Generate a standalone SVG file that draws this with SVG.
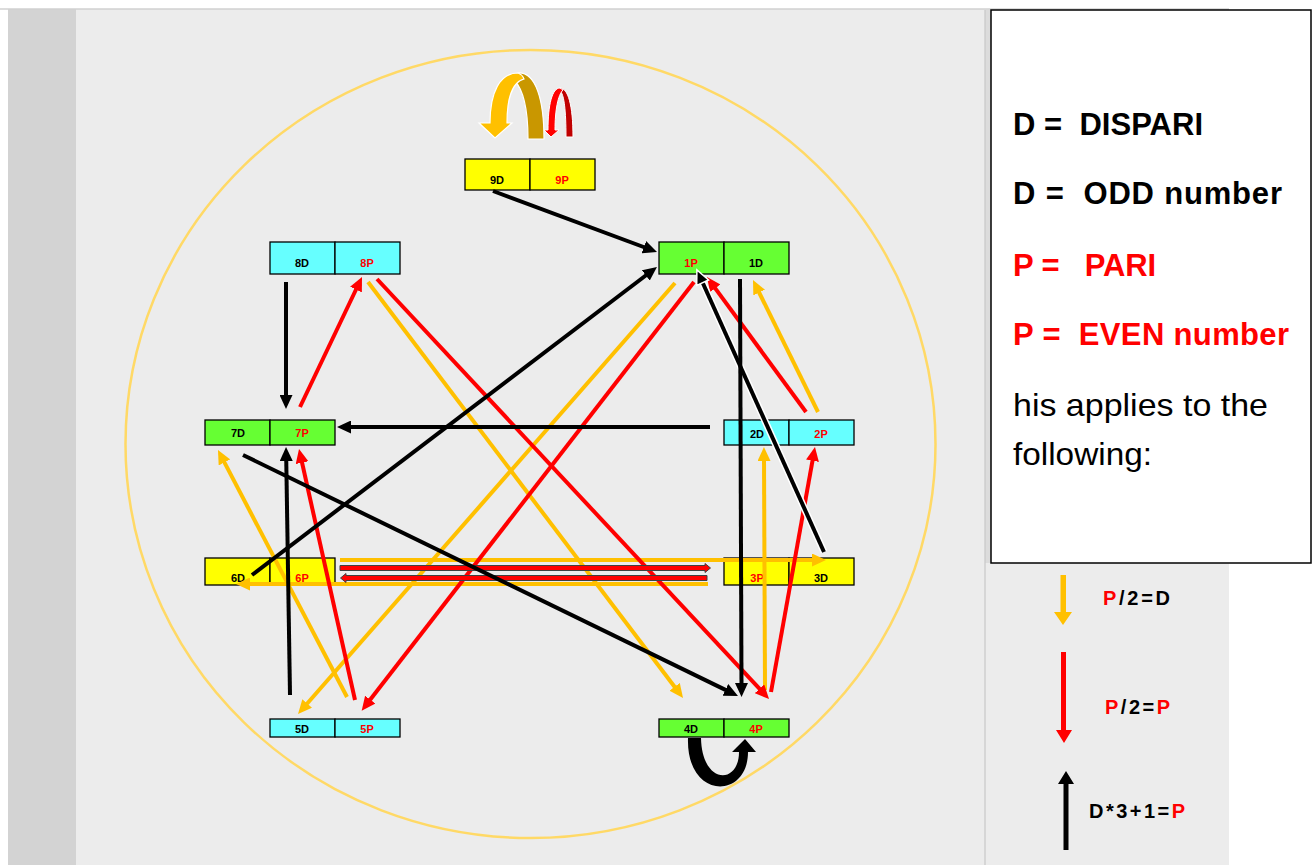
<svg xmlns="http://www.w3.org/2000/svg" width="1312" height="865" viewBox="0 0 1312 865">
<style>
.k{stroke:#000;stroke-width:4;fill:none}
.r{stroke:#ff0000;stroke-width:4;fill:none}
.y{stroke:#ffc000;stroke-width:4;fill:none}
.box{stroke:#000;stroke-width:1.3}
.yel{fill:#ffff00}.cya{fill:#66ffff}.grn{fill:#66ff33}
.lbl{font-family:"Liberation Sans",Arial,sans-serif;font-weight:bold;font-size:11px;text-anchor:middle}
.d{fill:#000}.p{fill:#ff0000}
.lg{font-family:"Liberation Sans",Arial,sans-serif;font-weight:bold;font-size:31px}
.lgr{font-family:"Liberation Sans",Arial,sans-serif;font-size:32px;fill:#000}
.ls{font-family:"Liberation Sans",Arial,sans-serif;font-weight:bold;font-size:20px;fill:#000}
</style>
<defs>
<marker id="ak" viewBox="0 0 14 13" markerWidth="14" markerHeight="13" refX="4" refY="6.5" orient="auto" markerUnits="userSpaceOnUse"><path d="M0,0 L14,6.5 L0,13 z" fill="#000"/></marker>
<marker id="akw" viewBox="-2 -2 18 17" markerWidth="18" markerHeight="17" refX="4" refY="6.5" orient="auto" markerUnits="userSpaceOnUse"><path d="M0,0 L14,6.5 L0,13 z" fill="#000" stroke="#fff" stroke-width="1.5"/></marker>
<marker id="ar" viewBox="0 0 14 13" markerWidth="14" markerHeight="13" refX="4" refY="6.5" orient="auto" markerUnits="userSpaceOnUse"><path d="M0,0 L14,6.5 L0,13 z" fill="#ff0000"/></marker>
<marker id="ay" viewBox="0 0 14 13" markerWidth="14" markerHeight="13" refX="4" refY="6.5" orient="auto" markerUnits="userSpaceOnUse"><path d="M0,0 L14,6.5 L0,13 z" fill="#ffc000"/></marker>
</defs>

<!-- background -->
<rect x="0" y="0" width="1312" height="865" fill="#ffffff"/>
<rect x="8" y="9" width="1221" height="856" fill="#ececec"/>
<rect x="8" y="9" width="68" height="856" fill="#d3d3d3"/>
<line x1="0" y1="9" x2="1229" y2="9" stroke="#d0d0d0" stroke-width="1.5"/>
<rect x="985" y="10" width="6" height="553" fill="#dcdcdc"/>
<line x1="985" y1="10" x2="985" y2="865" stroke="#c8c8c8" stroke-width="1.2"/>

<!-- big circle -->
<ellipse cx="530.5" cy="444" rx="405" ry="394" fill="none" stroke="#ffd966" stroke-width="2.5"/>

<!-- nodes -->
<g id="n9">
<rect class="box yel" x="465" y="159" width="65" height="31"/><rect class="box yel" x="530" y="159" width="65" height="31"/>
<text class="lbl d" x="497" y="184">9D</text><text class="lbl p" x="562" y="184">9P</text>
</g>
<g id="n8">
<rect class="box cya" x="270" y="242" width="65" height="32"/><rect class="box cya" x="335" y="242" width="65" height="32"/>
<text class="lbl d" x="302" y="267">8D</text><text class="lbl p" x="367" y="267">8P</text>
</g>
<g id="n1">
<rect class="box grn" x="659" y="242" width="65" height="32"/><rect class="box grn" x="724" y="242" width="65" height="32"/>
<text class="lbl p" x="691" y="267">1P</text><text class="lbl d" x="756" y="267">1D</text>
</g>
<g id="n7">
<rect class="box grn" x="205" y="420" width="65" height="25"/><rect class="box grn" x="270" y="420" width="65" height="25"/>
<text class="lbl d" x="238" y="437">7D</text><text class="lbl p" x="302" y="437">7P</text>
</g>
<g id="n2">
<rect class="box cya" x="724" y="420" width="65" height="25"/><rect class="box cya" x="789" y="420" width="65" height="25"/>
<text class="lbl d" x="757" y="438">2D</text><text class="lbl p" x="821" y="438">2P</text>
</g>
<g id="n6">
<rect class="box yel" x="205" y="558" width="65" height="27"/><rect class="box yel" x="270" y="558" width="65" height="27"/>
<text class="lbl d" x="238" y="582">6D</text><text class="lbl p" x="302" y="582">6P</text>
</g>
<g id="n3">
<rect class="box yel" x="724" y="558" width="65" height="27"/><rect class="box yel" x="789" y="558" width="65" height="27"/>
<text class="lbl p" x="757" y="582">3P</text><text class="lbl d" x="821" y="582">3D</text>
</g>
<g id="n5">
<rect class="box cya" x="270" y="719" width="65" height="18"/><rect class="box cya" x="335" y="719" width="65" height="18"/>
<text class="lbl d" x="302" y="733">5D</text><text class="lbl p" x="367" y="733">5P</text>
</g>
<g id="n4">
<rect class="box grn" x="659" y="719" width="65" height="18"/><rect class="box grn" x="724" y="719" width="65" height="18"/>
<text class="lbl d" x="691" y="733">4D</text><text class="lbl p" x="756" y="733">4P</text>
</g>

<!-- connectors -->
<g id="connectors">
<!-- yellow: P/2=D -->
<line class="y" x1="368" y1="282" x2="677" y2="690" marker-end="url(#ay)"/>
<line class="y" x1="675" y1="283" x2="304.6" y2="706.5" marker-end="url(#ay)"/>
<line class="y" x1="818" y1="412" x2="757.4" y2="289" marker-end="url(#ay)"/>
<line class="y" x1="765" y1="690" x2="764" y2="457" marker-end="url(#ay)"/>
<line class="y" x1="347" y1="697" x2="222.6" y2="458.9" marker-end="url(#ay)"/>
<line class="y" x1="340" y1="560" x2="816" y2="560" marker-end="url(#ay)"/>
<line class="y" x1="708" y1="584" x2="246" y2="584" marker-end="url(#ay)"/>
<!-- red: P/2=P -->
<line class="r" x1="377" y1="279" x2="762.2" y2="691.7" marker-end="url(#ar)"/>
<line class="r" x1="806" y1="412" x2="712.9" y2="285.1" marker-end="url(#ar)"/>
<line class="r" x1="300" y1="407" x2="357.7" y2="286" marker-end="url(#ar)"/>
<line class="r" x1="694" y1="282" x2="367.8" y2="702.8" marker-end="url(#ar)"/>
<line class="r" x1="771" y1="692" x2="813.2" y2="456.8" marker-end="url(#ar)"/>
<line class="r" x1="355" y1="700" x2="301.2" y2="458.8" marker-end="url(#ar)"/>
<path d="M340,565.5 L705,565.5 L705,563.5 L710.5,568 L705,572.5 L705,570.5 L340,570.5 Z" fill="#ff0000" stroke="#404040" stroke-width="1"/>
<path d="M707,575.5 L346,575.5 L346,573.5 L340.5,578 L346,582.5 L346,580.5 L707,580.5 Z" fill="#ff0000" stroke="#404040" stroke-width="1"/>
<!-- black: D*3+1=P -->
<line class="k" x1="493" y1="191" x2="647.6" y2="248.5" marker-end="url(#ak)"/>
<line class="k" x1="252" y1="575" x2="649" y2="273" marker-end="url(#ak)"/>
<line x1="824" y1="552" x2="701" y2="279" stroke="#fff" stroke-width="7"/>
<line class="k" x1="824" y1="552" x2="701" y2="279" marker-end="url(#akw)"/>
<line class="k" x1="740" y1="279" x2="741.5" y2="687" marker-end="url(#ak)"/>
<line class="k" x1="243" y1="455" x2="729" y2="691.6" marker-end="url(#ak)"/>
<line class="k" x1="290" y1="695" x2="286.2" y2="457" marker-end="url(#ak)"/>
<line class="k" x1="286" y1="282" x2="286" y2="399" marker-end="url(#ak)"/>
<line class="k" x1="710" y1="427" x2="347" y2="427" marker-end="url(#ak)"/>
<!-- 4D -> 4P curved -->
<path d="M688,738 C686,800 748,800 748,752 L756,752 L745,739 L732,752 L739,752 C739,785 702,785 701,738 Z" fill="#000"/>
<!-- 9 self loops -->
<path d="M518,73 C536,72 544,100 544,139 L528,139 C528,110 523,89 514,80 Z" fill="#c99700" stroke="#fff" stroke-width="1.2"/>
<path d="M490,123 C490,92 500,73 518,73 C521,74 523,76 524,79 C512,82 507,100 507,123 L512,123 L495,138 L479,123 Z" fill="#ffc000" stroke="#fff" stroke-width="1.2"/>
<path d="M560,88 C568,88 573,105 573,137 L566,137 C566,110 564,96 561,92 Z" fill="#c00000" stroke="#fff" stroke-width="1"/>
<path d="M548,130 C548,105 552,88 560,88 L563,90 C558,95 555,110 555,130 L559,130 L551,137 L544,130 Z" fill="#ff0000" stroke="#fff" stroke-width="1"/>
</g>

<!-- legend -->
<g id="legend">
<rect x="991" y="10" width="320" height="553" fill="#ffffff" stroke="#000" stroke-width="1.5"/>
<text class="lg" x="1013" y="135" fill="#000" textLength="190" lengthAdjust="spacing" xml:space="preserve">D =  DISPARI</text>
<text class="lg" x="1013" y="204" fill="#000" textLength="269" lengthAdjust="spacing" xml:space="preserve">D =  ODD number</text>
<text class="lg" x="1013" y="276" fill="#ff0000" textLength="143" lengthAdjust="spacing" xml:space="preserve">P =   PARI</text>
<text class="lg" x="1013" y="345" fill="#ff0000" textLength="276" lengthAdjust="spacing" xml:space="preserve">P =  EVEN number</text>
<text class="lgr" x="1013" y="416" textLength="255" lengthAdjust="spacingAndGlyphs">his applies to the</text>
<text class="lgr" x="1013" y="465" textLength="139" lengthAdjust="spacingAndGlyphs">following:</text>
</g>
<g id="key">
<path d="M1060.5,575 L1066,575 L1066,612 L1072,612 L1063,625 L1054,612 L1060.5,612 Z" fill="#ffc000"/>
<text class="ls" x="1103" y="605" textLength="67" lengthAdjust="spacing"><tspan fill="#ff0000">P</tspan>/2=D</text>
<path d="M1061,652 L1066,652 L1066,730 L1072,730 L1064,743 L1056,730 L1061,730 Z" fill="#ff0000"/>
<text class="ls" x="1105" y="714" textLength="65" lengthAdjust="spacing"><tspan fill="#ff0000">P</tspan>/2=<tspan fill="#ff0000">P</tspan></text>
<path d="M1063.5,850 L1068.5,850 L1068.5,784 L1074,784 L1066,771 L1058,784 L1063.5,784 Z" fill="#000"/>
<text class="ls" x="1089" y="818" textLength="96" lengthAdjust="spacing">D*3+1=<tspan fill="#ff0000">P</tspan></text>
</g>
</svg>
